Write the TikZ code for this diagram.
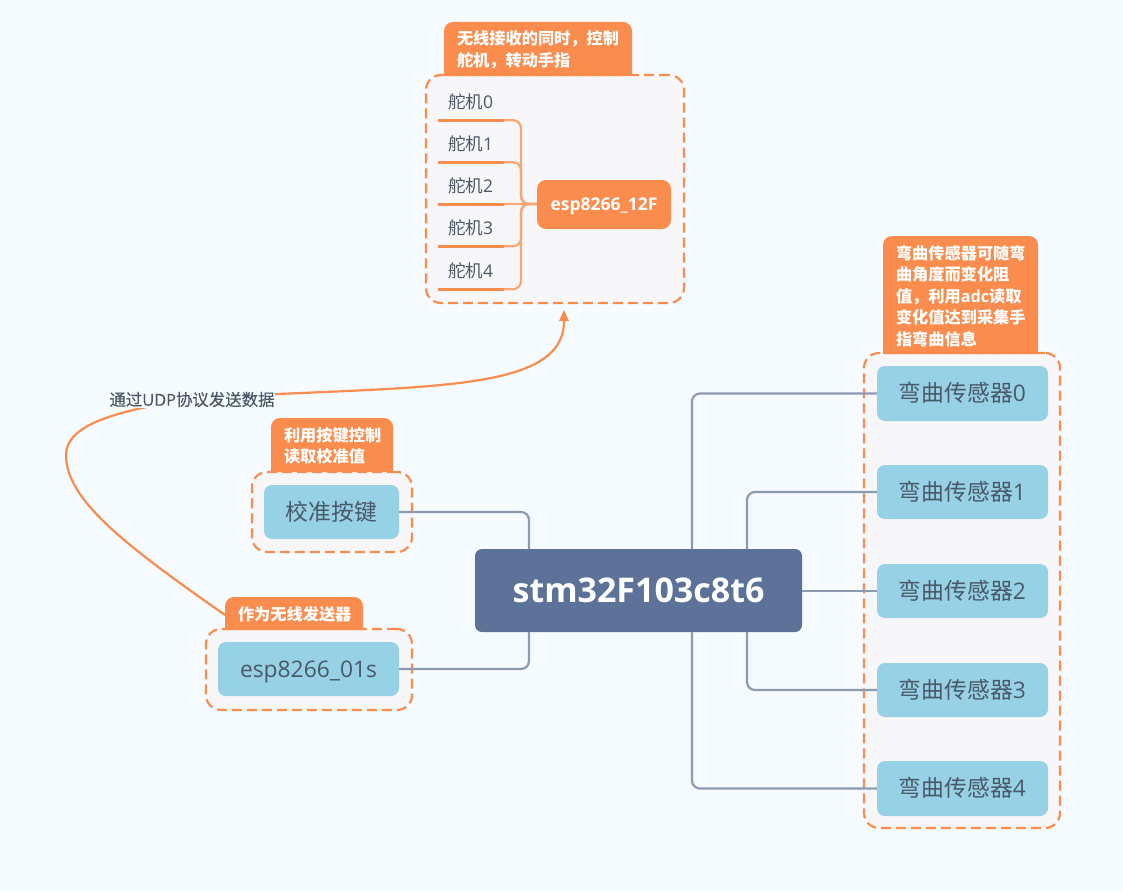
\documentclass[tikz,border=0pt]{standalone}
\usepackage{fontspec}
\setmainfont{Open Sans}
\newfontfamily\cjkf{Noto Sans CJK SC}
\newfontfamily\cjkm{Noto Sans CJK SC}[FakeBold=0.3]
\newfontfamily\latm{Open Sans}[FakeBold=0.3]
\newcommand\cj[1]{{\cjkf #1}}
\usetikzlibrary{arrows.meta}
\definecolor{bgc}{HTML}{F5FBFF}
\definecolor{orangec}{HTML}{FA8C4E}
\definecolor{orangel}{HTML}{FBA573}
\definecolor{groupc}{HTML}{F7F7FA}
\definecolor{bluec}{HTML}{96D1E6}
\definecolor{mainc}{HTML}{5C7299}
\definecolor{linec}{HTML}{8C9BB0}
\definecolor{textc}{HTML}{4A5868}
\tikzset{
  x=1pt,y=-1pt,
  groupbox/.style={draw=orangec,fill=groupc,line width=2.2pt,rounded corners=15pt,dash pattern=on 10pt off 5pt},
  topic/.style={fill=bluec,rounded corners=8pt,text=textc,font=\fontsize{22.8}{26}\selectfont,text height=20.5pt,text depth=4.3pt},
  mainbox/.style={fill=mainc,rounded corners=7pt,text=white,font=\fontsize{34}{38}\selectfont\bfseries,text height=30.6pt,text depth=6.5pt},
  espbox/.style={fill=orangec,rounded corners=9pt,text=white,font=\fontsize{17.5}{20}\selectfont\bfseries,text height=15.8pt,text depth=3.3pt},
  calltext/.style={text=white,font=\fontsize{16.2}{21.6}\selectfont\bfseries,align=left,inner ysep=0pt,inner xsep=13pt},
  link/.style={draw=linec,line width=2.2pt,rounded corners=8pt},
  bracket/.style={draw=orangel,line width=2.2pt,rounded corners=8pt},
  under/.style={draw=orangec,line width=3pt},
  leaf/.style={text=textc,font=\fontsize{17.5}{20}\selectfont,align=left,inner ysep=0pt,inner xsep=10pt,minimum height=36pt,text width=46pt},
  flow/.style={draw=orangec,line width=2.2pt},
  udp/.style={fill=bgc,text=textc,inner sep=0.5pt,font=\fontsize{16.4}{20}\selectfont},
}
\newcommand\bx[7]{%
  \pgfmathsetmacro\cxx{(#2+#4)/2}\pgfmathsetmacro\cyy{(#3+#5)/2}%
  \node[#6,inner sep=0pt,minimum width={(#4-#2)*1pt},minimum height={(#5-#3)*1pt}] (#1) at (\cxx,\cyy) {#7};}
\newcommand\callout[6]{%
  \fill[orangec] (#2,#5) [rounded corners=9pt] -- (#2,#3) -- (#4,#3) [sharp corners] -- (#4,#5) -- cycle;
  \pgfmathsetmacro\cxx{(#2+#4)/2}\pgfmathsetmacro\cyy{(#3+#5)/2+1}%
  \pgfmathsetmacro\tww{#4-#2-26}%
  \node[calltext,text width=\tww pt] (#1) at (\cxx,\cyy) {#6};}
\newcommand\leafnode[3]{%
  \node[leaf] (#1) at (471,#2-18) {#3};
  \draw[under] (#1.south west) -- (#1.south east);}
\begin{document}
\begin{tikzpicture}
\useasboundingbox (0,0) rectangle (1123,891);
\fill[bgc] (0,0) rectangle (1123,891);

% groups
\bx{gservo}{426}{75}{684}{303}{groupbox}{}
\bx{gsens}{864}{353}{1060}{828}{groupbox}{}
\bx{gkey}{252}{472}{412}{552}{groupbox}{}
\bx{gesp}{206}{629}{412}{710}{groupbox}{}

% callouts
\callout{cservo}{444}{22}{632}{76}{\cj{无线接收的同时，控制}\\\cj{舵机，转动手指}}
\callout{csens}{883}{236}{1038}{354}{\cj{弯曲传感器可随弯}\\\cj{曲角度而变化阻}\\\cj{值，利用}adc\cj{读取}\\\cj{变化值达到采集手}\\\cj{指弯曲信息}}
\callout{ckey}{271}{418}{393}{472}{\cj{利用按键控制}\\\cj{读取校准值}}
\callout{cesp}{225}{597}{363}{630}{\cj{作为无线发送器}}

% main topics
\bx{stm}{475}{549}{802}{632}{mainbox}{stm32F103c8t6}
\bx{s0}{877}{366}{1048}{421}{topic}{\cj{弯曲传感器}0}
\bx{s1}{877}{465}{1048}{519}{topic}{\cj{弯曲传感器}1}
\bx{s2}{877}{564}{1048}{618}{topic}{\cj{弯曲传感器}2}
\bx{s3}{877}{663}{1048}{717}{topic}{\cj{弯曲传感器}3}
\bx{s4}{877}{761}{1048}{816}{topic}{\cj{弯曲传感器}4}
\bx{key}{264}{485}{399}{539}{topic}{\cj{校准按键}}
\bx{e01}{218}{642}{399}{696}{topic}{esp8266\_01s}
\bx{e12}{537}{180}{671}{229}{espbox}{esp8266\_12F}

% servo leaves
\leafnode{l0}{120}{\cj{舵机}0}
\leafnode{l1}{162}{\cj{舵机}1}
\leafnode{l2}{204}{\cj{舵机}2}
\leafnode{l3}{246}{\cj{舵机}3}
\leafnode{l4}{289}{\cj{舵机}4}
\coordinate (brk) at (521,204);
\draw[bracket] (l0.south east) -| (brk) -- (brk -| e12.west);
\draw[bracket] (l1.south east) -| (brk) -- (brk -| e12.west);
\draw[bracket] (l3.south east) -| (brk) -- (brk -| e12.west);
\draw[bracket] (l4.south east) -| (brk) -- (brk -| e12.west);
\draw[bracket] (l2.south east) -- (l2.south east -| e12.west);

% connectors from the main topic
\coordinate (tl) at (529,549);
\coordinate (bl) at (529,632);
\coordinate (t0) at (692,549);
\coordinate (t1) at (747,549);
\coordinate (b3) at (747,632);
\coordinate (b4) at (692,632);
\draw[link] (key.east) -| (tl);
\draw[link] (e01.east) -| (bl);
\draw[link] (t0) |- (s0.west);
\draw[link] (t1) |- (s1.west);
\draw[link] (s2.west -| stm.east) -- (s2.west);
\draw[link] (b3) |- (s3.west);
\draw[link] (b4) |- (s4.west);

% relationship
\coordinate (from) at (225,615);
\coordinate (to) at (564,320);
\coordinate (tip) at (564,310);
\coordinate (bend) at (66,455);
\coordinate (mid) at (200,398);
\draw[flow] (from) .. controls (125,545) and (66,500) .. (bend)
  .. controls (66,425) and (115,410) .. (mid)
  .. controls (420,385) and (565,395) .. (to);
\fill[orangec] (tip) -- (559,321) -- (569,321) -- cycle;
\node[udp] (lab) at (192,399.5) {{\cjkm 通过}{\latm UDP}{\cjkm 协议发送数据}};
\end{tikzpicture}
\end{document}
